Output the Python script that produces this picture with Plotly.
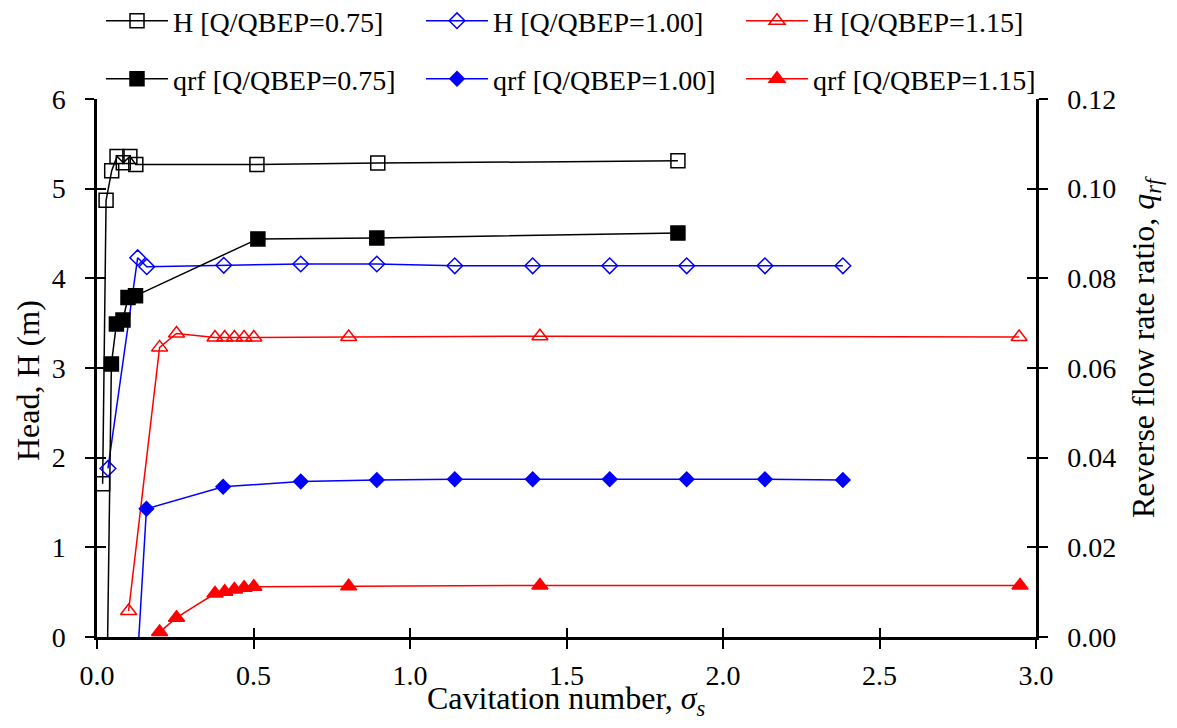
import plotly.graph_objects as go

# ---------------- data ----------------
sigma_H075 = [0.018, 0.029, 0.047, 0.064, 0.084, 0.105, 0.124, 0.511, 0.897, 1.856]
H_075 = [1.71, 4.87, 5.20, 5.36, 5.29, 5.36, 5.27, 5.27, 5.285, 5.31]

sigma_H100 = [0.035, 0.130, 0.159, 0.405, 0.651, 0.894, 1.143, 1.392, 1.638, 1.884, 2.134, 2.383]
H_100 = [1.88, 4.23, 4.13, 4.145, 4.16, 4.16, 4.14, 4.14, 4.14, 4.14, 4.14, 4.14]

sigma_H115 = [0.101, 0.200, 0.254, 0.377, 0.408, 0.439, 0.470, 0.501, 0.804, 1.415, 2.946]
H_115 = [0.29, 3.23, 3.385, 3.34, 3.34, 3.34, 3.34, 3.34, 3.345, 3.355, 3.345]

sigma_q075 = [0.033, 0.046, 0.062, 0.083, 0.099, 0.123, 0.514, 0.894, 1.856]
q_075 = [-0.005, 0.0609, 0.0698, 0.0707, 0.0757, 0.0761, 0.0888, 0.0890, 0.0901]

sigma_q100 = [0.132, 0.158, 0.403, 0.651, 0.894, 1.143, 1.392, 1.638, 1.884, 2.134, 2.383]
q_100 = [-0.002, 0.0286, 0.0335, 0.0347, 0.0350, 0.0352, 0.0352, 0.0352, 0.0352, 0.0352, 0.0350]

sigma_q115 = [0.200, 0.254, 0.377, 0.408, 0.439, 0.470, 0.501, 0.804, 1.415, 2.949]
q_115 = [0.0011, 0.0043, 0.0097, 0.0101, 0.0106, 0.0110, 0.0112, 0.0113, 0.0115, 0.0115]

x_ticks = [0.0, 0.5, 1.0, 1.5, 2.0, 2.5, 3.0]
yl_ticks = [0, 1, 2, 3, 4, 5, 6]
yr_ticks = [0.00, 0.02, 0.04, 0.06, 0.08, 0.10, 0.12]

x_title = "Cavitation number, <i>σ<sub>s</sub></i>"
yl_title = "Head, H (m)"
yr_title = "Reverse flow rate ratio, <i>q<sub>rf</sub></i>"

FONT = "Liberation Serif"
BLACK, BLUE, RED = "#000000", "#0000FF", "#FF0000"

# plot-area geometry in pixels (for legend / title placement)
L, R, T, B = 97, 141, 99, 91
W, H = 1177, 728
PW, PH = W - L - R, H - T - B


def px_x(p):
    return (p - L) / PW


def px_y(p):
    return (H - B - p) / PH


fig = go.Figure()


def add(x, y, name, color, symbol, size, yaxis, legend):
    fig.add_trace(go.Scatter(
        x=x, y=y, name=name, mode="lines+markers", yaxis=yaxis, legend=legend,
        showlegend=True,
        line=dict(color=color, width=1.5),
        marker=dict(symbol=symbol, size=size, color=color,
                    line=dict(color=color, width=1.5)),
        cliponaxis=True,
    ))


add(sigma_H075, H_075, "H [Q/QBEP=0.75]", BLACK, "square-open", 14, "y", "legend")
add(sigma_H100, H_100, "H [Q/QBEP=1.00]", BLUE, "diamond-open", 12, "y", "legend2")
add(sigma_H115, H_115, "H [Q/QBEP=1.15]", RED, "triangle-up-open", 14, "y", "legend3")
add(sigma_q075, q_075, "qrf [Q/QBEP=0.75]", BLACK, "square", 14, "y2", "legend4")
add(sigma_q100, q_100, "qrf [Q/QBEP=1.00]", BLUE, "diamond", 11, "y2", "legend5")
add(sigma_q115, q_115, "qrf [Q/QBEP=1.15]", RED, "triangle-up", 14, "y2", "legend6")

# empty helper traces so the overlay axes (inside half of crossing ticks) are drawn
fig.add_trace(go.Scatter(x=[], y=[], xaxis="x2", yaxis="y3", showlegend=False, hoverinfo="skip"))
fig.add_trace(go.Scatter(x=[], y=[], xaxis="x2", yaxis="y4", showlegend=False, hoverinfo="skip"))

tickfont = dict(family=FONT, size=28, color="black")
titlefont = dict(family=FONT, size=32, color="black")
common = dict(showgrid=False, zeroline=False, ticklen=9, tickwidth=2, tickcolor="black")


def legend_at(x, y):
    return dict(orientation="h", x=px_x(x), xanchor="left",
                y=px_y(y), yanchor="middle",
                font=dict(family=FONT, size=28, color="black"), itemwidth=62,
                bgcolor="rgba(0,0,0,0)", borderwidth=0)


col_x = [101, 421, 741]
row_y = [21, 79]

fig.update_layout(
    width=W, height=H, showlegend=True,
    paper_bgcolor="white", plot_bgcolor="white",
    margin=dict(l=L, r=R, t=T, b=B, autoexpand=False),
    font=dict(family=FONT, size=28, color="black"),
    xaxis=dict(range=[0, 3], tickvals=x_ticks, tickformat=".1f", ticks="outside",
               showline=True, linecolor="black", linewidth=2.5, tickfont=tickfont,
               ticklabelstandoff=3, anchor="y", **common),
    yaxis=dict(range=[0, 6], tickvals=yl_ticks, ticks="outside", showline=True,
               linecolor="black", linewidth=2.5, tickfont=tickfont, ticklabelstandoff=14,
               anchor="x", **common),
    yaxis2=dict(range=[0, 0.12], tickvals=yr_ticks, tickformat=".2f", ticks="outside",
                showline=True, linecolor="black", linewidth=2.5, tickfont=tickfont,
                ticklabelstandoff=14, overlaying="y", side="right", anchor="x",
                **common),
    xaxis2=dict(range=[0, 3], tickvals=x_ticks, ticks="inside", showticklabels=False,
                showline=False, overlaying="x", anchor="y3", **common),
    yaxis3=dict(range=[0, 6], tickvals=yl_ticks, ticks="inside", showticklabels=False,
                showline=False, overlaying="y", anchor="x2", side="left", **common),
    yaxis4=dict(range=[0, 0.12], tickvals=yr_ticks, ticks="inside", showticklabels=False,
                showline=False, overlaying="y", anchor="x2", side="right", **common),
    legend=legend_at(col_x[0], row_y[0]),
    legend2=legend_at(col_x[1], row_y[0]),
    legend3=legend_at(col_x[2], row_y[0]),
    legend4=legend_at(col_x[0], row_y[1]),
    legend5=legend_at(col_x[1], row_y[1]),
    legend6=legend_at(col_x[2], row_y[1]),
    annotations=[
        dict(text=x_title, xref="paper", yref="paper", x=px_x(566), y=px_y(678),
             xanchor="center", yanchor="top", showarrow=False, font=titlefont),
        dict(text=yl_title, xref="paper", yref="paper", x=px_x(28), y=px_y(381),
             xanchor="center", yanchor="middle", textangle=-90, showarrow=False,
             font=titlefont),
        dict(text=yr_title, xref="paper", yref="paper", x=px_x(1145), y=px_y(347),
             xanchor="center", yanchor="middle", textangle=-90, showarrow=False,
             font=titlefont),
    ],
)

fig.write_html("out.html")
